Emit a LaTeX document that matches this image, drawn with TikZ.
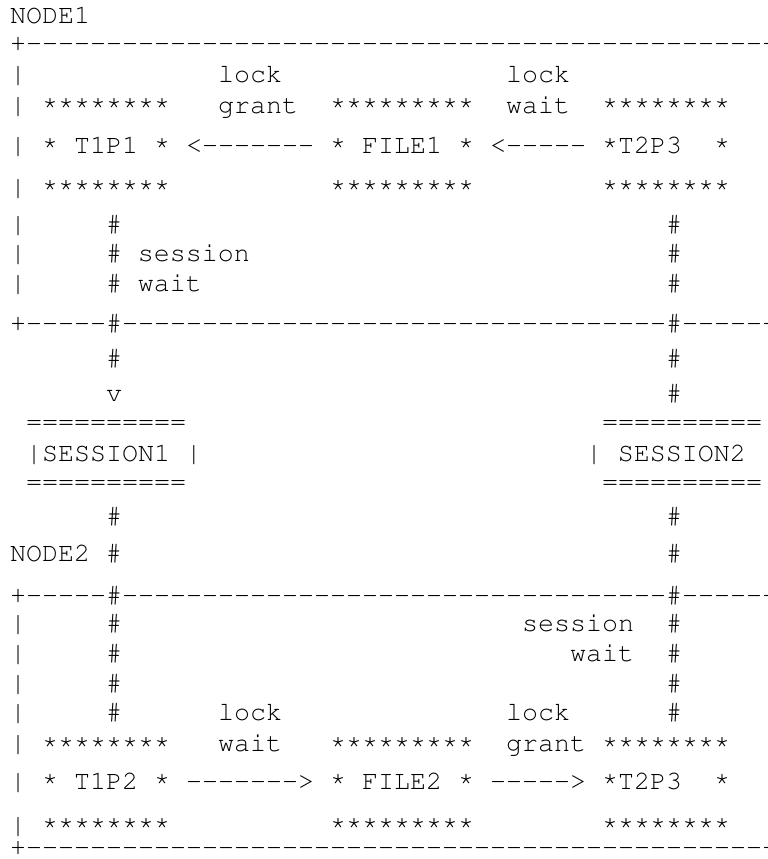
\documentclass[tikz,border=0pt]{standalone}
\usepackage[T1]{fontenc}
\usepackage{courier}
\usetikzlibrary{positioning}

% a run of hyphens, kept apart so that no ligature forms
\newcommand{\dashes}[1]{\foreach \k in {1,...,#1}{-}}
% asterisks sit a little higher in the reference
\newcommand{\boxstar}{\raisebox{3pt}{*}}
\newcommand{\stars}[1]{\foreach \k in {1,...,#1}{\boxstar}}

\begin{document}
\begin{tikzpicture}[
        x=16pt, y=-1pt,
        ascii/.style={anchor=base west, inner sep=0pt, outer sep=0pt, font={\ttfamily\fontsize{26.67pt}{32pt}\selectfont}}
    ]
        \useasboundingbox (-10pt,0pt) rectangle (758pt,-859pt);
        \clip (-10pt,0pt) rectangle (758pt,-859pt);

        % node 1
        \node[ascii] (node1) at (0,23.3) {NODE1};
        \node[ascii] (topedge) at (0,51.7) {+\dashes{46}+};
        \foreach \y [count=\i] in {82.7,113.3,153.3,195,232,261.7,291.7}
            \node[ascii] (bara-\i) at (0,\y) {|};

        \node[ascii] (lockgrant1) at (13,82.7) {lock};
        \node[ascii] (lockwait1) at (31,82.7) {lock};
        \node[ascii] (t1p1top) at (2,113.3) {\stars{8}};
        \node[ascii] (grant1) at (13,113.3) {grant};
        \node[ascii] (file1top) at (20,113.3) {\stars{9}};
        \node[ascii] (wait1) at (31,113.3) {wait};
        \node[ascii] (t2p3top) at (37,113.3) {\stars{8}};

        \node[ascii] (t1p1) at (2,153.3) {\boxstar{} T1P1 \boxstar};
        \node[ascii] (arrowgrant1) at (11,153.3) {<\dashes{7}};
        \node[ascii] (file1) at (20,153.3) {\boxstar{} FILE1 \boxstar};
        \node[ascii] (arrowwait1) at (30,153.3) {<\dashes{5}};
        \node[ascii] (t2p3) at (37,153.3) {\boxstar T2P3\ \ \boxstar};

        \node[ascii] (t1p1bot) at (2,195) {\stars{8}};
        \node[ascii] (file1bot) at (20,195) {\stars{9}};
        \node[ascii] (t2p3bot) at (37,195) {\stars{8}};

        \node[ascii] (hasha-1) at (6,232) {\#};
        \node[ascii] (sesswait1) at (6,261.7) {\# session};
        \node[ascii] (sesswait2) at (6,291.7) {\# wait};
        \foreach \y [count=\i] in {232,261.7,291.7,366.7,401.7,524,561.7}
            \node[ascii] (hashb-\i) at (41,\y) {\#};

        % between the nodes
        \node[ascii] (midedge1) at (0,331.7) {+\dashes{5}\#\dashes{34}\#\dashes{5}+};
        \node[ascii] (hasha-2) at (6,366.7) {\#};
        \node[ascii] (arrowv) at (6,401.7) {v};

        \node[ascii] (session1top) at (1,430) {==========};
        \node[ascii] (session1) at (1,461.7) {|SESSION1 |};
        \node[ascii] (session1bot) at (1,490) {==========};
        \node[ascii] (session2top) at (37,430) {==========};
        \node[ascii] (session2) at (36,461.7) {| SESSION2};
        \node[ascii] (session2bot) at (37,490) {==========};

        \node[ascii] (hasha-3) at (6,524) {\#};
        \node[ascii] (node2) at (0,561.7) {NODE2 \#};

        % node 2
        \node[ascii] (midedge2) at (0,603) {+\dashes{5}\#\dashes{34}\#\dashes{5}+};
        \foreach \y [count=\i] in {631.7,661.7,691.7,720.7,751.7,789.3,833}
            \node[ascii] (barb-\i) at (0,\y) {|};
        \foreach \y [count=\i] in {631.7,661.7,691.7,720.7}
            \node[ascii] (hashc-\i) at (6,\y) {\#};
        \foreach \y [count=\i] in {631.7,661.7,691.7,720.7}
            \node[ascii] (hashd-\i) at (41,\y) {\#};

        \node[ascii] (sessionlbl2) at (32,631.7) {session};
        \node[ascii] (waitlbl2) at (35,661.7) {wait};
        \node[ascii] (lockwait2) at (13,720.7) {lock};
        \node[ascii] (lockgrant2) at (31,720.7) {lock};

        \node[ascii] (t1p2top) at (2,751.7) {\stars{8}};
        \node[ascii] (wait2) at (13,751.7) {wait};
        \node[ascii] (file2top) at (20,751.7) {\stars{9}};
        \node[ascii] (grant2) at (31,751.7) {grant};
        \node[ascii] (t2p3btop) at (37,751.7) {\stars{8}};

        \node[ascii] (t1p2) at (2,789.3) {\boxstar{} T1P2 \boxstar};
        \node[ascii] (arrowwait2) at (11,789.3) {\dashes{7}>};
        \node[ascii] (file2) at (20,789.3) {\boxstar{} FILE2 \boxstar};
        \node[ascii] (arrowgrant2) at (30,789.3) {\dashes{5}>};
        \node[ascii] (t2p3b) at (37,789.3) {\boxstar T2P3\ \ \boxstar};

        \node[ascii] (t1p2bot) at (2,833) {\stars{8}};
        \node[ascii] (file2bot) at (20,833) {\stars{9}};
        \node[ascii] (t2p3bbot) at (37,833) {\stars{8}};

        \node[ascii] (botedge) at (0,855) {+\dashes{46}+};
    \end{tikzpicture}
\end{document}
